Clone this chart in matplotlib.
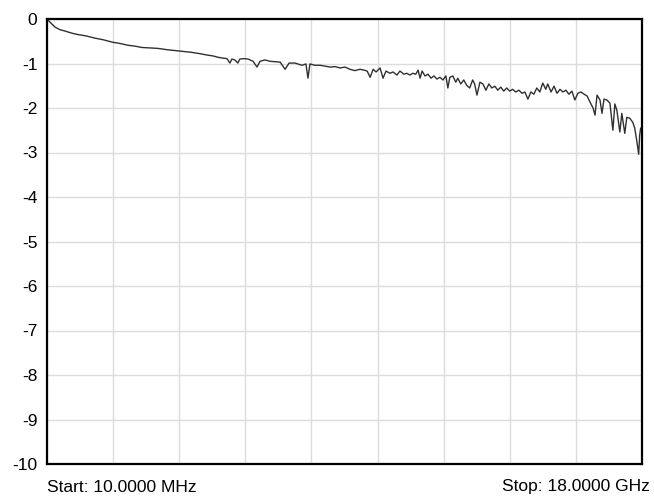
import matplotlib
matplotlib.use('Agg')
import matplotlib.pyplot as plt
import numpy as np

plt.rcParams['font.family'] = ['Liberation Sans', 'DejaVu Sans']

# trace: frequency in GHz, magnitude in dB
freq_ghz = [
    0.01, 0.10, 0.25, 0.40, 0.55, 0.77, 0.95, 1.19, 1.46, 1.73,
    1.98, 2.22, 2.46, 2.67, 2.88, 3.12, 3.36, 3.64, 3.88, 4.12,
    4.39, 4.64, 4.85, 5.03, 5.18, 5.33, 5.45, 5.54, 5.60, 5.69,
    5.78, 5.84, 5.97, 6.09, 6.24, 6.36, 6.45, 6.60, 6.75, 6.90,
    7.06, 7.21, 7.33, 7.51, 7.72, 7.84, 7.90, 7.96, 8.11, 8.27,
    8.42, 8.57, 8.72, 8.87, 9.02, 9.17, 9.32, 9.47, 9.60, 9.69,
    9.78, 9.87, 9.96, 10.08, 10.17, 10.26, 10.38, 10.47, 10.59, 10.68,
    10.80, 10.89, 10.98, 11.07, 11.16, 11.23, 11.29, 11.35, 11.44, 11.53,
    11.62, 11.71, 11.80, 11.89, 11.98, 12.07, 12.13, 12.19, 12.28, 12.37,
    12.43, 12.52, 12.61, 12.70, 12.79, 12.88, 12.94, 13.01, 13.10, 13.19,
    13.28, 13.37, 13.46, 13.55, 13.64, 13.73, 13.82, 13.91, 14.00, 14.09,
    14.18, 14.28, 14.37, 14.46, 14.55, 14.64, 14.73, 14.82, 14.91, 15.00,
    15.09, 15.15, 15.25, 15.34, 15.43, 15.52, 15.61, 15.70, 15.79, 15.88,
    15.97, 16.06, 16.15, 16.25, 16.34, 16.43, 16.52, 16.58, 16.64, 16.73,
    16.79, 16.85, 16.94, 17.03, 17.12, 17.18, 17.24, 17.33, 17.39, 17.48,
    17.54, 17.63, 17.72, 17.78, 17.84, 17.90, 17.93, 17.96, 18.00,
]
mag_db = [
    0.00, -0.07, -0.18, -0.24, -0.27, -0.32, -0.35, -0.38, -0.43, -0.47,
    -0.52, -0.55, -0.59, -0.61, -0.64, -0.65, -0.66, -0.69, -0.71, -0.73,
    -0.75, -0.78, -0.81, -0.83, -0.86, -0.88, -0.89, -0.99, -0.90, -0.92,
    -0.99, -0.90, -0.89, -0.90, -0.95, -1.08, -0.95, -0.92, -0.95, -0.96,
    -0.97, -1.13, -0.99, -0.99, -1.04, -1.01, -1.33, -1.01, -1.04, -1.04,
    -1.06, -1.08, -1.07, -1.10, -1.08, -1.13, -1.16, -1.13, -1.15, -1.17,
    -1.31, -1.13, -1.19, -1.10, -1.33, -1.17, -1.22, -1.19, -1.26, -1.17,
    -1.24, -1.22, -1.26, -1.22, -1.24, -1.15, -1.33, -1.17, -1.28, -1.24,
    -1.33, -1.28, -1.35, -1.31, -1.37, -1.28, -1.55, -1.31, -1.28, -1.42,
    -1.33, -1.46, -1.37, -1.49, -1.55, -1.37, -1.46, -1.71, -1.42, -1.46,
    -1.60, -1.46, -1.55, -1.51, -1.60, -1.53, -1.62, -1.55, -1.62, -1.58,
    -1.64, -1.60, -1.67, -1.64, -1.80, -1.64, -1.69, -1.55, -1.64, -1.44,
    -1.58, -1.46, -1.64, -1.51, -1.67, -1.58, -1.64, -1.60, -1.69, -1.62,
    -1.82, -1.67, -1.64, -1.69, -1.73, -1.87, -2.00, -2.16, -1.71, -1.82,
    -2.12, -1.80, -1.82, -1.89, -2.50, -1.91, -2.05, -2.54, -2.12, -2.57,
    -2.21, -2.23, -2.32, -2.45, -2.73, -3.04, -2.61, -2.45, -2.50,
]

start_ghz = 0.01
stop_ghz = 18.0
y_ticks = list(range(0, -11, -1))

fig = plt.figure(figsize=(6.54, 4.97), dpi=100)
ax = fig.add_axes([47 / 654, 1 - 464 / 497, 595 / 654, 445 / 497])

ax.plot(freq_ghz, mag_db, color='#303030', linewidth=1.0)

ax.set_xlim(start_ghz, stop_ghz)
ax.set_ylim(-10, 0)
ax.set_xticks(np.linspace(start_ghz, stop_ghz, 10))
ax.set_xticklabels([])
ax.set_yticks(y_ticks)
ax.set_yticklabels([str(v) for v in y_ticks], fontsize=12.5)
ax.tick_params(length=0, pad=7)
ax.grid(True, color='#dcdcdc', linewidth=1)
ax.set_axisbelow(True)
for side in ax.spines.values():
    side.set_linewidth(1.6)
    side.set_color('black')

fig.text(47 / 654, 1 - 487 / 497, 'Start: 10.0000 MHz', fontsize=12.5,
         ha='left', va='center')
fig.text(650 / 654, 1 - 487 / 497, 'Stop: 18.0000 GHz', fontsize=12.5,
         ha='right', va='center')

fig.savefig('out.png', dpi=100)
